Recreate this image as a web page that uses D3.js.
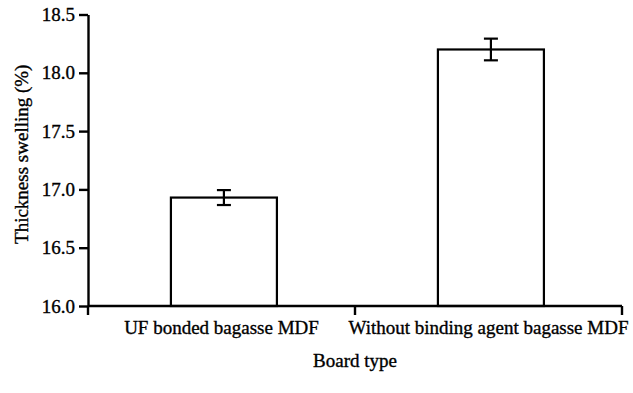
<!DOCTYPE html>
<html>
<head>
<meta charset="utf-8">
<script src="https://cdn.jsdelivr.net/npm/d3@7/dist/d3.min.js"></script>
<style>
  html, body { margin: 0; padding: 0; background: #fff; }
  svg { display: block; }
  svg text { font-family: "Liberation Serif", "Times New Roman", serif !important; fill: #000; stroke: #000; stroke-width: 0.35px; }
</style>
</head>
<body>
<svg id="chart" width="633" height="393"></svg>
<script>
// Board types and mean thickness swelling with standard error
const categories = ["UF bonded bagasse MDF", "Without binding agent bagasse MDF"];
const swelling = [16.93, 18.2];
const errors = [0.064, 0.093];
const yTicks = [16.0, 16.5, 17.0, 17.5, 18.0, 18.5];

const svg = d3.select("#chart");
const plotLeft = 88, plotRight = 622, plotTop = 14.5, plotBottom = 306;
const fontSize = 19;
const serif = '"Liberation Serif", "Times New Roman", serif';

const y = d3.scaleLinear().domain([16, 18.5]).range([plotBottom, plotTop]);

// Slots for each board type (axis ticks sit on slot boundaries)
const slot = d3.scaleBand().domain(categories).range([plotLeft, plotRight]).padding(0);
// Bars inside the slots
const x = d3.scaleBand().domain(categories).range([plotLeft, plotRight])
  .paddingInner(0.603).paddingOuter(0.3015).align(0.515);

// Bars
svg.selectAll("rect.bar").data(categories).join("rect")
  .attr("class", "bar")
  .attr("x", d => x(d))
  .attr("y", (d, i) => y(swelling[i]))
  .attr("width", x.bandwidth())
  .attr("height", (d, i) => y(16) - y(swelling[i]))
  .attr("fill", "#fff")
  .attr("stroke", "#000")
  .attr("stroke-width", 2.2);

// Error bars
const capW = 7;
const eb = svg.selectAll("g.err").data(categories).join("g").attr("class", "err")
  .attr("stroke", "#000").attr("stroke-width", 2.2);
const cx = d => x(d) + x.bandwidth() / 2;
eb.append("line")
  .attr("x1", cx).attr("x2", cx)
  .attr("y1", (d, i) => y(swelling[i] + errors[i])).attr("y2", (d, i) => y(swelling[i] - errors[i]));
eb.append("line")
  .attr("x1", d => cx(d) - capW).attr("x2", d => cx(d) + capW)
  .attr("y1", (d, i) => y(swelling[i] + errors[i])).attr("y2", (d, i) => y(swelling[i] + errors[i]));
eb.append("line")
  .attr("x1", d => cx(d) - capW).attr("x2", d => cx(d) + capW)
  .attr("y1", (d, i) => y(swelling[i] - errors[i])).attr("y2", (d, i) => y(swelling[i] - errors[i]));

// Y axis
const yAxis = svg.append("g").attr("transform", `translate(${plotLeft},0)`)
  .call(d3.axisLeft(y).tickValues(yTicks).tickFormat(d3.format(".1f"))
    .tickSize(9).tickSizeOuter(0).tickPadding(4));
yAxis.attr("font-family", serif).attr("font-size", fontSize);
yAxis.selectAll("path, line").attr("stroke", "#000").attr("stroke-width", 2.4);
yAxis.selectAll("text").attr("fill", "#000");

// X axis: baseline with ticks on slot boundaries
const xAxis = svg.append("g").attr("font-family", serif).attr("font-size", fontSize);
xAxis.append("line").attr("x1", plotLeft).attr("x2", plotRight).attr("y1", plotBottom).attr("y2", plotBottom)
  .attr("stroke", "#000").attr("stroke-width", 2.4);
const bounds = categories.map(c => slot(c)).concat([plotRight]);
xAxis.selectAll("line.tick").data(bounds).join("line").attr("class", "tick")
  .attr("x1", d => d).attr("x2", d => d)
  .attr("y1", plotBottom).attr("y2", plotBottom + 9)
  .attr("stroke", "#000").attr("stroke-width", 2.4);
xAxis.selectAll("text.cat").data(categories).join("text").attr("class", "cat")
  .attr("x", d => slot(d) + slot.bandwidth() / 2)
  .attr("y", 334)
  .attr("text-anchor", "middle")
  .text(d => d);

// Axis titles
svg.append("text")
  .attr("x", (plotLeft + plotRight) / 2).attr("y", 367)
  .attr("text-anchor", "middle").attr("font-family", serif).attr("font-size", fontSize)
  .text("Board type");
svg.append("text")
  .attr("transform", `translate(28,${(plotTop + plotBottom) / 2 - 6}) rotate(-90)`)
  .attr("text-anchor", "middle").attr("font-family", serif).attr("font-size", fontSize)
  .text("Thickness swelling (%)");
</script>
</body>
</html>
